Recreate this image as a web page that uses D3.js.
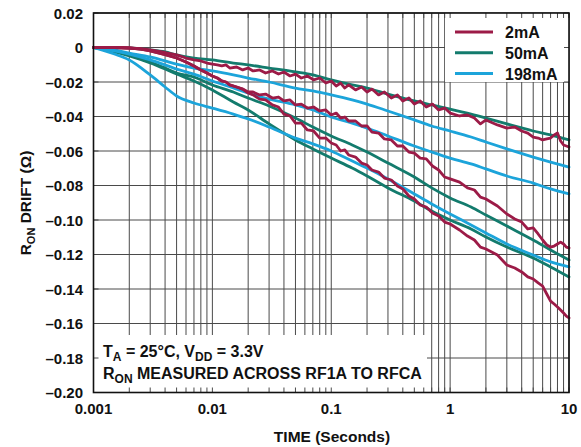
<!DOCTYPE html>
<html><head><meta charset="utf-8">
<script src="https://cdn.jsdelivr.net/npm/d3@7"></script>
<style>body{margin:0;background:#fff}</style>
</head><body>
<svg id="c" width="581" height="447"></svg>
<script>
// ---------- DATA ----------
const yTicks = [0.02, 0, -0.02, -0.04, -0.06, -0.08, -0.10, -0.12, -0.14, -0.16, -0.18, -0.20];
const yTickLabels = ["0.02", "0", "\u20130.02", "\u20130.04", "\u20130.06", "\u20130.08", "\u20130.10", "\u20130.12", "\u20130.14", "\u20130.16", "\u20130.18", "\u20130.20"];
const xTicks = [0.001, 0.01, 0.1, 1, 10];
const xTickLabels = ["0.001", "0.01", "0.1", "1", "10"];
const seriesNames = ["2mA", "50mA", "198mA"];

// smooth curves (50mA, 198mA), time in seconds
const tS = [0.001,0.0015,0.002,0.003,0.004,0.005,0.007,0.01,0.015,0.02,0.03,0.05,0.07,0.1,0.15,0.2,0.3,0.5,0.7,1,1.5,2,3,5,7,10];
const teal1 = [0,-0.0001,-0.0003,-0.0014,-0.0026,-0.0043,-0.0061,-0.0072,-0.0090,-0.0101,-0.0119,-0.0142,-0.0159,-0.0188,-0.0217,-0.0235,-0.0270,-0.0310,-0.0333,-0.0357,-0.0386,-0.0409,-0.0443,-0.0484,-0.0507,-0.0536];
const teal2 = [0,-0.0020,-0.0040,-0.0084,-0.0119,-0.0148,-0.0171,-0.0217,-0.0258,-0.0293,-0.0339,-0.0409,-0.0461,-0.0513,-0.0565,-0.0606,-0.0670,-0.0751,-0.0814,-0.0872,-0.0925,-0.0971,-0.1035,-0.1116,-0.1174,-0.1232];
const teal3 = [0,-0.0026,-0.0049,-0.0090,-0.0125,-0.0154,-0.0194,-0.0246,-0.0316,-0.0362,-0.0443,-0.0536,-0.0588,-0.0641,-0.0699,-0.0745,-0.0814,-0.0890,-0.0948,-0.1000,-0.1052,-0.1099,-0.1157,-0.1220,-0.1272,-0.1330];
const blue1 = [0,-0.0014,-0.0032,-0.0055,-0.0078,-0.0096,-0.0119,-0.0136,-0.0159,-0.0177,-0.0200,-0.0235,-0.0252,-0.0275,-0.0304,-0.0328,-0.0368,-0.0420,-0.0455,-0.0484,-0.0519,-0.0548,-0.0588,-0.0635,-0.0664,-0.0693];
const blue2 = [0,-0.0020,-0.0038,-0.0072,-0.0101,-0.0125,-0.0154,-0.0194,-0.0235,-0.0264,-0.0299,-0.0333,-0.0362,-0.0403,-0.0438,-0.0467,-0.0513,-0.0571,-0.0606,-0.0641,-0.0675,-0.0704,-0.0745,-0.0786,-0.0820,-0.0849];
const blue3 = [0,-0.0038,-0.0072,-0.0159,-0.0229,-0.0281,-0.0322,-0.0351,-0.0386,-0.0414,-0.0461,-0.0525,-0.0559,-0.0600,-0.0658,-0.0699,-0.0762,-0.0849,-0.0907,-0.0965,-0.1029,-0.1075,-0.1139,-0.1203,-0.1243,-0.1272];

// noisy curves (2mA)
const tR = [0.001,0.0015,0.002,0.0025,0.003,0.004,0.005,0.006,0.007,0.008,0.009,
  0.010,0.011,0.012,0.013,0.014,
  0.016,0.018,0.020,0.022,0.025,0.028,
  0.032,0.036,0.040,0.045,0.050,0.056,0.063,0.071,0.080,0.090,
  0.10,0.11,0.12,0.13,0.14,
  0.16,0.18,0.20,0.22,0.25,0.28,
  0.32,0.36,0.40,0.45,0.50,0.56,0.63,0.71,0.80,0.90,
  1.0,1.2,1.4,1.6,1.8,2.0,
  2.5,3.0,3.5,4.0,4.5,5.0,5.5,6.0,6.5,7.0,7.5,8.0,8.5,9.0,9.5,10];
const red1 = [0,0,-0.0002,-0.0006,-0.0014,-0.0029,-0.0043,-0.0061,-0.0072,-0.0078,-0.0090,
  -0.0096,-0.0101,-0.0107,-0.0101,-0.0119,
  -0.0113,-0.0130,-0.0119,-0.0136,-0.0130,-0.0148,
  -0.0136,-0.0154,-0.0142,-0.0165,-0.0154,-0.0177,-0.0165,-0.0188,-0.0177,-0.0206,
  -0.0194,-0.0223,-0.0206,-0.0235,-0.0217,
  -0.0246,-0.0229,-0.0258,-0.0241,-0.0275,-0.0258,
  -0.0293,-0.0275,-0.0310,-0.0293,-0.0328,-0.0310,-0.0345,-0.0328,-0.0362,-0.0351,
  -0.0380,-0.0397,-0.0391,-0.0409,-0.0443,-0.0420,
  -0.0449,-0.0467,-0.0461,-0.0484,-0.0496,-0.0519,-0.0525,-0.0536,-0.0530,-0.0525,-0.0507,-0.0496,-0.0542,-0.0565,-0.0571,-0.0577];
const red2 = [0,0,-0.0003,-0.0009,-0.0020,-0.0041,-0.0061,-0.0084,-0.0107,-0.0130,-0.0148,
  -0.0165,-0.0177,-0.0194,-0.0200,-0.0217,
  -0.0229,-0.0241,-0.0258,-0.0258,-0.0275,-0.0270,
  -0.0293,-0.0287,-0.0310,-0.0304,-0.0333,-0.0328,-0.0351,-0.0345,-0.0368,-0.0362,
  -0.0391,-0.0380,-0.0409,-0.0403,-0.0426,
  -0.0426,-0.0455,-0.0455,-0.0490,-0.0496,-0.0530,
  -0.0536,-0.0571,-0.0571,-0.0606,-0.0612,-0.0641,-0.0646,-0.0687,-0.0710,-0.0751,
  -0.0762,-0.0780,-0.0814,-0.0826,-0.0867,-0.0878,
  -0.0919,-0.0965,-0.0994,-0.1012,-0.1052,-0.1046,-0.1081,-0.1116,-0.1145,-0.1157,-0.1151,-0.1139,-0.1128,-0.1139,-0.1157,-0.1162];
const red3 = [0,0,-0.0003,-0.0009,-0.0020,-0.0041,-0.0061,-0.0084,-0.0107,-0.0130,-0.0148,
  -0.0165,-0.0177,-0.0194,-0.0200,-0.0217,
  -0.0229,-0.0241,-0.0264,-0.0275,-0.0299,-0.0304,
  -0.0333,-0.0345,-0.0386,-0.0397,-0.0438,-0.0438,-0.0478,-0.0484,-0.0525,-0.0525,
  -0.0554,-0.0565,-0.0600,-0.0594,-0.0623,
  -0.0635,-0.0670,-0.0681,-0.0710,-0.0722,-0.0757,
  -0.0768,-0.0803,-0.0820,-0.0861,-0.0878,-0.0913,-0.0925,-0.0959,-0.0977,-0.1012,
  -0.1023,-0.1058,-0.1093,-0.1116,-0.1157,-0.1168,
  -0.1203,-0.1261,-0.1278,-0.1301,-0.1330,-0.1342,-0.1365,-0.1383,-0.1429,-0.1470,-0.1487,-0.1504,-0.1522,-0.1539,-0.1557,-0.1568];

// ---------- LAYOUT ----------
const colors = {"2mA":"#9c1b47","50mA":"#137b6d","198mA":"#1ca4da"};
const FONT = "'Liberation Sans', Arial, Helvetica, sans-serif";
const L = 93.5, R = 569, T = 13, B = 392.5;
const x = d3.scaleLog().domain([0.001, 10]).range([L, R]);
const y = d3.scaleLinear().domain([-0.20, 0.02]).range([B, T]);
const svg = d3.select("#c");

const gridColor = "#4a4a4a";
const grid = svg.append("g");
const vGrid = x.ticks();
grid.selectAll("line.v").data(vGrid).join("line").attr("class","v")
  .attr("x1", d => x(d)).attr("x2", d => x(d)).attr("y1", T).attr("y2", B)
  .attr("stroke", gridColor).attr("stroke-width", 1);
grid.selectAll("line.h").data(yTicks).join("line").attr("class","h")
  .attr("x1", L).attr("x2", R).attr("y1", d => y(d)).attr("y2", d => y(d))
  .attr("stroke", gridColor).attr("stroke-width", 1);

// boxes (legend + annotation) hide grid
svg.append("rect").attr("x", 445).attr("y", T).attr("width", R - 445).attr("height", 82 - T).attr("fill", "#fff");
svg.append("rect").attr("x", L).attr("y", 335).attr("width", 427 - L).attr("height", B - 335).attr("fill", "#fff");

// edge ticks
const ticks = svg.append("g").attr("stroke", gridColor).attr("stroke-width", 1);
ticks.selectAll("line.b").data(vGrid).join("line").attr("class","b")
  .attr("x1", d => x(d)).attr("x2", d => x(d)).attr("y1", B).attr("y2", B - 5);
ticks.selectAll("line.t").data(vGrid).join("line").attr("class","t")
  .attr("x1", d => x(d)).attr("x2", d => x(d)).attr("y1", T).attr("y2", T + 5);
ticks.selectAll("line.l").data(yTicks).join("line").attr("class","l")
  .attr("x1", L).attr("x2", L + 5).attr("y1", d => y(d)).attr("y2", d => y(d));
ticks.selectAll("line.r").data(yTicks).join("line").attr("class","r")
  .attr("x1", R).attr("x2", R - 5).attr("y1", d => y(d)).attr("y2", d => y(d));

// curves
const line = d3.line().x(d => x(d[0])).y(d => y(d[1]));
const smooth = d3.line().x(d => x(d[0])).y(d => y(d[1])).curve(d3.curveMonotoneX);
const curves = [
  {name:"50mA", t:tS, v:teal1, gen:smooth},
  {name:"50mA", t:tS, v:teal2, gen:smooth},
  {name:"50mA", t:tS, v:teal3, gen:smooth},
  {name:"198mA", t:tS, v:blue1, gen:smooth},
  {name:"198mA", t:tS, v:blue2, gen:smooth},
  {name:"198mA", t:tS, v:blue3, gen:smooth},
  {name:"2mA", t:tR, v:red1, gen:line},
  {name:"2mA", t:tR, v:red2, gen:line},
  {name:"2mA", t:tR, v:red3, gen:line}
];
const cg = svg.append("g");
curves.forEach(c => {
  const pts = c.t.map((t, i) => [t, c.v[i]]);
  cg.append("path").attr("d", c.gen(pts)).attr("fill", "none")
    .attr("stroke", colors[c.name]).attr("stroke-width", 2.8)
    .attr("stroke-linejoin", "round").attr("stroke-linecap", "round");
});

// frame
svg.append("rect").attr("x", L).attr("y", T).attr("width", R - L).attr("height", B - T)
  .attr("fill", "none").attr("stroke", "#111").attr("stroke-width", 1.6);

// legend
const lg = svg.append("g");
seriesNames.forEach((n, i) => {
  const yy = 32 + i * 20.8;
  lg.append("line").attr("x1", 455).attr("x2", 493).attr("y1", yy).attr("y2", yy)
    .attr("stroke", colors[n]).attr("stroke-width", 3);
  lg.append("text").attr("x", 505).attr("y", yy + 6).text(n)
    .attr("font-family", FONT).attr("font-weight", "bold").attr("font-size", 16).attr("fill", "#111");
});

// axis labels
const tl = svg.append("g").attr("font-family", FONT).attr("font-weight", "bold").attr("font-size", 15).attr("fill", "#111");
tl.selectAll("text.y").data(yTicks).join("text").attr("class","y")
  .attr("x", 83).attr("y", d => y(d) + 5.5).attr("text-anchor", "end")
  .text((d, i) => yTickLabels[i]);
tl.selectAll("text.x").data(xTicks).join("text").attr("class","x")
  .attr("x", d => x(d)).attr("y", 414).attr("text-anchor", "middle")
  .text((d, i) => xTickLabels[i]);

svg.append("text").attr("x", 332).attr("y", 442).attr("text-anchor", "middle")
  .attr("font-family", FONT).attr("font-weight", "bold").attr("font-size", 15.5).attr("fill", "#111")
  .text("TIME (Seconds)");

const yt = svg.append("text").attr("transform", "translate(31,203) rotate(-90)")
  .attr("text-anchor", "middle").attr("font-family", FONT).attr("font-weight", "bold")
  .attr("font-size", 15.5).attr("fill", "#111");
yt.append("tspan").text("R");
yt.append("tspan").attr("font-size", 11).attr("dy", 4).text("ON");
yt.append("tspan").attr("dy", -4).text(" DRIFT (\u03A9)");

// annotation
const an = svg.append("g").attr("font-family", FONT).attr("font-weight", "bold").attr("font-size", 16).attr("fill", "#111");
const a1 = an.append("text").attr("x", 103).attr("y", 357);
a1.append("tspan").text("T");
a1.append("tspan").attr("font-size", 12).attr("dy", 4).text("A");
a1.append("tspan").attr("dy", -4).text(" = 25\u00B0C, V");
a1.append("tspan").attr("font-size", 12).attr("dy", 4).text("DD");
a1.append("tspan").attr("dy", -4).text(" = 3.3V");
const a2 = an.append("text").attr("x", 103).attr("y", 379);
a2.append("tspan").text("R");
a2.append("tspan").attr("font-size", 12).attr("dy", 4).text("ON");
a2.append("tspan").attr("dy", -4).text(" MEASURED ACROSS RF1A TO RFCA");
</script>
</body></html>
